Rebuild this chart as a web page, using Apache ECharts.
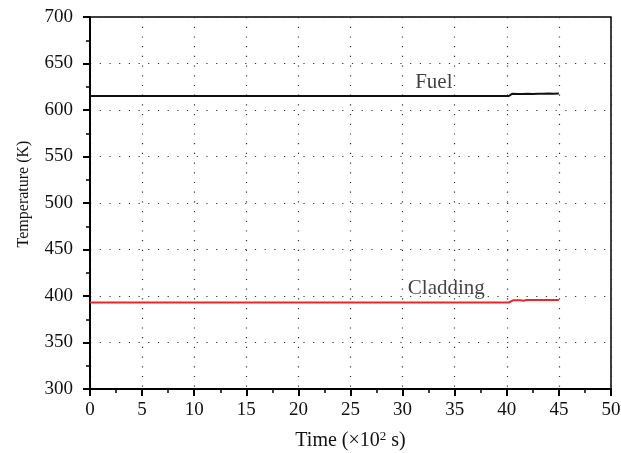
<!DOCTYPE html>
<html>
<head>
<meta charset="utf-8">
<script src="https://cdn.jsdelivr.net/npm/echarts@6/dist/echarts.min.js"></script>
<style>
  html, body { margin: 0; padding: 0; background: #fff; }
  #chart { width: 621px; height: 453px; }
</style>
</head>
<body>
<div id="chart"></div>
<script>
// Fuel and cladding temperature histories (time in units of 100 s, temperature in K)
const fuelTime = [0, 40.2, 40.5, 41.0, 41.5, 42.0, 42.5, 43.0, 43.5, 44.0, 44.5, 45.0];
const fuelTemp = [615.0, 615.0, 617.4, 617.1, 617.3, 617.5, 617.3, 617.6, 617.5, 617.8, 617.6, 617.8];
const cladTime = [0, 40.2, 40.6, 41.3, 41.6, 41.9, 43.0, 44.0, 45.0];
const cladTemp = [393.0, 393.0, 395.3, 395.5, 395.0, 395.6, 395.6, 395.7, 395.8];

const xTicks = { min: 0, max: 50, step: 5 };
const yTicks = { min: 300, max: 700, step: 50 };

const labels = [
  { text: 'Fuel', x: 33.0, y: 630 },
  { text: 'Cladding', x: 34.2, y: 408 }
];

const serif = '"Liberation Serif", "DejaVu Serif", serif';
const ink = '#111';

const pairs = (xs, ys) => xs.map((x, i) => [x, ys[i]]);

const chart = echarts.init(document.getElementById('chart'));

const axisCommon = {
  axisLine: { show: true, onZero: false, lineStyle: { color: '#000', width: 2 } },
  axisTick: { show: true, inside: false, length: 7, lineStyle: { color: '#000', width: 2 } },
  minorTick: { show: true, splitNumber: 2, length: 4, lineStyle: { color: '#000', width: 1.5 } },
  splitLine: { show: true, lineStyle: { color: '#333', width: 1.2, type: [1.2, 8.5] } },
  axisLabel: { color: ink, fontFamily: serif, fontSize: 19 },
  nameTextStyle: { color: ink, fontFamily: serif, fontSize: 17 }
};

chart.setOption({
  animation: false,
  backgroundColor: '#fff',
  grid: {
    left: 90, right: 10, top: 17, bottom: 64,
    outerBoundsMode: 'none',
    show: true, borderColor: '#000', borderWidth: 1.5, backgroundColor: 'transparent'
  },
  xAxis: Object.assign({}, axisCommon, {
    type: 'value',
    min: xTicks.min, max: xTicks.max, interval: xTicks.step,
    axisLabel: Object.assign({}, axisCommon.axisLabel, { margin: 12 }),
    name: 'Time (×10{sup|2} s)',
    nameLocation: 'middle',
    nameGap: 41,
    nameTextStyle: Object.assign({}, axisCommon.nameTextStyle, {
      fontSize: 20,
      rich: { sup: { fontFamily: serif, fontSize: 13, verticalAlign: 'top', padding: [0, 0, 9, 0], color: ink } }
    })
  }),
  yAxis: Object.assign({}, axisCommon, {
    type: 'value',
    min: yTicks.min, max: yTicks.max, interval: yTicks.step,
    axisLabel: Object.assign({}, axisCommon.axisLabel, { margin: 17 }),
    name: 'Temperature (K)',
    nameLocation: 'middle',
    nameGap: 58,
    nameTextStyle: Object.assign({}, axisCommon.nameTextStyle, { fontSize: 16, padding: [0, 0, 0, 18] })
  }),
  series: [
    {
      name: 'Fuel', type: 'line', data: pairs(fuelTime, fuelTemp),
      showSymbol: false, lineStyle: { color: '#111', width: 2 }, z: 3
    },
    {
      name: 'Cladding', type: 'line', data: pairs(cladTime, cladTemp),
      showSymbol: false, lineStyle: { color: '#e8262c', width: 2 }, z: 3
    },
    {
      type: 'scatter', data: labels.map(l => ({ value: [l.x, l.y], name: l.text })),
      symbolSize: 0, silent: true,
      label: {
        show: true, position: 'inside', formatter: p => p.name,
        color: ink, fontFamily: serif, fontSize: 21
      }
    }
  ]
});
</script>
</body>
</html>
